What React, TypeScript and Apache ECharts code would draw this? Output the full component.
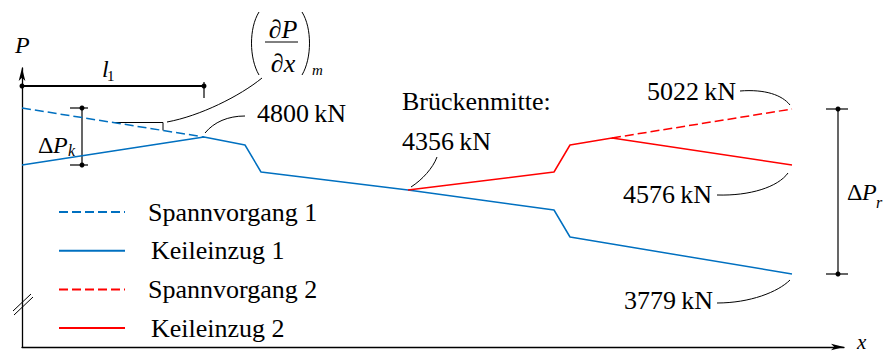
import React, { useEffect, useRef } from "react";
import * as echarts from "echarts";

// Schematic position along the tendon (x) and prestressing force (P) in drawing units
const seriesNames = ["Spannvorgang 1", "Keileinzug 1", "Spannvorgang 2", "Keileinzug 2"];
const spann1X = [0, 182];
const spann1P = [239, 210];
const keil1X = [0, 182, 223, 239, 386, 532, 548, 770];
const keil1P = [182, 210, 202, 175, 157, 137, 110, 73];
const keil2X = [386, 532, 548, 590, 770];
const keil2P = [157, 175, 202, 209, 182];
const spann2X = [590, 770];
const spann2P = [209, 238];
const forceLabels = ["4800\u2009kN", "4356\u2009kN", "5022\u2009kN", "4576\u2009kN", "3779\u2009kN"];
const midLabel = "Brückenmitte:";

const BLUE = "#0070C0";
const RED = "#FF0000";
const FONT = "Liberation Serif";
const FS = 26;

const zip = (xs: number[], ys: number[]) => xs.map((x, i) => [x, ys[i]]);

export default function App() {
  const ref = useRef<HTMLDivElement>(null);
  useEffect(() => {
    if (!ref.current) return;
    const chart = echarts.init(ref.current, null, { renderer: "svg" });
    const lineSeries = (name: string, xs: number[], ys: number[], color: string, dashed: boolean) => ({
      name,
      type: "line",
      data: zip(xs, ys),
      symbol: "none",
      silent: true,
      itemStyle: { color },
      lineStyle: { color, width: 1.5, type: dashed ? [9, 4] : "solid" },
      emphasis: { disabled: true },
    });
    const base: any = {
      animation: false,
      grid: { left: 22, top: 68, width: 822, height: 279 },
      xAxis: {
        type: "value",
        min: 0,
        max: 822,
        axisLine: { lineStyle: { color: "#000", width: 1.3 }, symbol: ["none", "arrow"], symbolSize: [5, 13] },
        axisTick: { show: false },
        axisLabel: { show: false },
        splitLine: { show: false },
      },
      yAxis: {
        type: "value",
        min: 0,
        max: 279,
        axisLine: { lineStyle: { color: "#000", width: 1.3 }, symbol: ["none", "arrow"], symbolSize: [5, 13] },
        axisTick: { show: false },
        axisLabel: { show: false },
        splitLine: { show: false },
      },
      legend: {
        orient: "vertical",
        left: 58,
        top: 199,
        padding: 0,
        itemWidth: 66,
        itemHeight: 14,
        itemGap: 12.7,
        selectedMode: false,
        itemStyle: { opacity: 0 },
        textStyle: { fontFamily: FONT, fontSize: FS, color: "#000", padding: [0, 0, 0, 18] },
        data: [
          { name: seriesNames[0] },
          { name: seriesNames[1], textStyle: { padding: [0, 0, 0, 21] } },
          { name: seriesNames[2] },
          { name: seriesNames[3], textStyle: { padding: [0, 0, 0, 21] } },
        ],
      },
      series: [
        lineSeries(seriesNames[0], spann1X, spann1P, BLUE, true),
        lineSeries(seriesNames[1], keil1X, keil1P, BLUE, false),
        lineSeries(seriesNames[2], spann2X, spann2P, RED, true),
        lineSeries(seriesNames[3], keil2X, keil2P, RED, false),
      ],
    };
    chart.setOption(base);

    const px = (x: number, y: number) => chart.convertToPixel({ gridIndex: 0 }, [x, y]) as number[];
    const line = (a: number[], b: number[], w = 1.2) => ({
      type: "line",
      silent: true,
      shape: { x1: a[0], y1: a[1], x2: b[0], y2: b[1] },
      style: { stroke: "#000", lineWidth: w },
    });
    const dot = (p: number[]) => ({ type: "circle", silent: true, shape: { cx: p[0], cy: p[1], r: 2.5 }, style: { fill: "#000" } });
    const curve = (a: number[], c1: number[], c2: number[], b: number[]) => ({
      type: "bezierCurve",
      silent: true,
      shape: { x1: a[0], y1: a[1], cpx1: c1[0], cpy1: c1[1], cpx2: c2[0], cpy2: c2[1], x2: b[0], y2: b[1] },
      style: { stroke: "#000", lineWidth: 1, fill: null },
    });
    // y is the visual centre line of the text
    const txt = (text: string, x: number, y: number, opts: any = {}) => {
      const size = opts.size || FS;
      const lh = opts.lh || size;
      const style: any = { text, fontFamily: FONT, fontSize: size, fill: "#000", lineHeight: lh };
      if (opts.align) style.align = opts.align;
      if (opts.italic) style.fontStyle = "italic";
      if (opts.rich) style.rich = opts.rich;
      return { type: "text", x, y: y - lh / 2, style };
    };
    const richParts = {
      a: { fontFamily: FONT, fontSize: FS, lineHeight: FS },
      b: { fontFamily: FONT, fontSize: FS, fontStyle: "italic", lineHeight: FS },
    };

    const l1a = px(0, 261);
    const l1b = px(spann1X[1], 261);
    const kTop = px(60, spann1P[0]);
    const kBot = px(60, keil1P[0]);
    const rTop = px(816, spann2P[1]);
    const rBot = px(816, keil1P[keil1P.length - 1]);
    const sl = (x: number) => spann1P[0] + ((spann1P[1] - spann1P[0]) * x) / spann1X[1];
    const t1 = px(91, sl(91));
    const t2 = px(141, sl(91));
    const t3 = px(141, sl(141));

    const graphic: any[] = [
      line(l1a, l1b, 2),
      line([l1b[0], l1b[1] - 4], [l1b[0], l1b[1] + 12], 1.2),
      dot(l1a),
      dot(l1b),
      line(kTop, kBot),
      line([kTop[0] - 12, kTop[1]], [kTop[0] + 6, kTop[1]]),
      line([kBot[0] - 12, kBot[1]], [kBot[0] + 6, kBot[1]]),
      dot(kTop),
      dot(kBot),
      line(rTop, rBot),
      line([rTop[0] - 12, rTop[1]], [rTop[0] + 10, rTop[1]]),
      line([rBot[0] - 12, rBot[1]], [rBot[0] + 10, rBot[1]]),
      dot(rTop),
      dot(rBot),
      line(t1, t2, 1),
      line(t2, t3, 1),
      line([13, 311], [31, 294], 1),
      line([14, 315], [33, 297], 1),
      curve([167, 122], [200, 116], [240, 96], [262, 78]),
      curve([205, 133], [214, 122], [228, 116], [245, 116]),
      curve([437, 157], [433, 168], [422, 180], [411, 187]),
      curve([740, 91], [765, 89], [782, 95], [790, 105]),
      curve([717, 195], [750, 196], [778, 187], [788, 173]),
      curve([717, 303], [750, 303], [778, 292], [790, 280]),
      curve([259, 12], [249, 28], [249, 58], [259, 75]),
      curve([302, 12], [312, 28], [312, 58], [302, 75]),
      line([265, 42], [298, 42], 1),
      txt("P", 15, 45, { size: 24, italic: true }),
      txt("l", 102, 69, { size: 24, italic: true }),
      txt("1", 107, 76, { size: 15 }),
      txt("Δ", 38, 145, { size: 24 }),
      txt("P", 53, 145, { size: 24, italic: true }),
      txt("k", 68, 150, { size: 16, italic: true }),
      txt("{a|∂}{b|P}", 283, 29, { align: "center", rich: richParts }),
      txt("{a|∂}{b|x}", 283, 63, { align: "center", rich: richParts }),
      txt("m", 312, 70, { size: 15, italic: true }),
      txt(forceLabels[0], 257, 113),
      txt(midLabel, 402, 101),
      txt(forceLabels[1], 402, 141),
      txt(forceLabels[2], 647, 91),
      txt(forceLabels[3], 623, 194),
      txt(forceLabels[4], 624, 300),
      txt("Δ", 847, 192, { size: 24 }),
      txt("P", 862, 192, { size: 24, italic: true }),
      txt("r", 876, 202, { size: 16, italic: true }),
      txt("x", 857, 342, { size: 21, italic: true, lh: 12 }),
    ];
    chart.setOption({ ...base, graphic }, true);
    return () => chart.dispose();
  }, []);
  return <div ref={ref} style={{ position: "fixed", left: 0, top: 0, width: 884, height: 353, background: "#fff" }} />;
}
